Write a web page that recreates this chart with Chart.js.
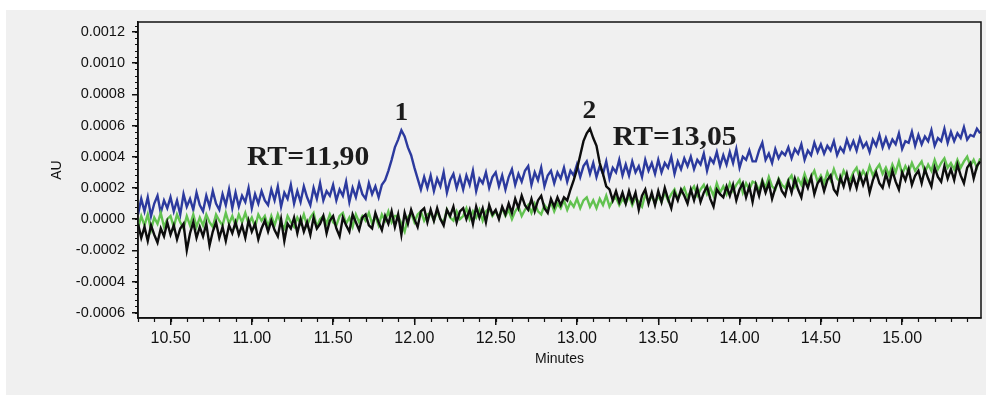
<!DOCTYPE html>
<html>
<head>
<meta charset="utf-8">
<script src="https://cdn.jsdelivr.net/npm/chart.js@4.4.1/dist/chart.umd.min.js"></script>
<style>
html, body { margin: 0; padding: 0; background: #fff; }
#panel { position: absolute; left: 6px; top: 10px; width: 980px; height: 385px; background: #f0f0f0; }
#wrap { position: absolute; left: 0; top: 0; width: 986px; height: 403px; }
</style>
</head>
<body>
<div id="panel"></div>
<div id="wrap"><canvas id="cromatograma" width="986" height="403"></canvas></div>
<script>
// sampling of the traces (minutes)
const startTime = 10.30;
const sampleStep = 0.02;
// absorbance values in units of 1e-5 AU, one value per sample
const unit = 1e-5;

const blueTrace = [
  3, 13, 5, 14, 2, 10, 15, 4, 12, 7,
  14, 5, 12, 3, 16, 8, 13, 6, 17, 9,
  5, 15, 8, 18, 10, 6, 16, 9, 19, 7,
  17, 8, 15, 11, 20, 7, 16, 10, 18, 12,
  9, 19, 12, 21, 8, 17, 13, 22, 10, 18,
  11, 21, 14, 9, 20, 13, 23, 12, 18, 15,
  22, 12, 19, 15, 24, 11, 20, 14, 23, 16,
  13, 23, 16, 21, 14, 22, 25, 31, 38, 46,
  51, 57, 53, 46, 41, 33, 26, 19, 27, 20,
  28, 18, 26, 21, 30, 17, 25, 29, 20, 27,
  19, 28, 22, 31, 18, 26, 23, 30, 20, 27,
  30, 21, 28, 19, 27, 32, 22, 29, 24, 31,
  34, 22, 30, 25, 33, 21, 28, 31, 23, 30,
  26, 33, 24, 31, 28, 35, 27, 34, 37, 29,
  36, 27, 34, 29, 37, 26, 33, 30, 38, 28,
  35, 28, 37, 30, 34, 27, 38, 31, 36, 29,
  38, 30, 36, 33, 40, 29, 37, 32, 39, 34,
  40, 32, 38, 35, 42, 31, 39, 36, 43, 34,
  41, 35, 43, 36, 45, 33, 40, 38, 44, 37,
  37, 44, 49, 38, 42, 36, 45, 39, 43, 41,
  46, 39, 45, 42, 48, 38, 44, 41, 49, 43,
  48, 42, 47, 44, 50, 41, 46, 43, 51, 45,
  50, 44, 52, 46, 49, 43, 51, 47, 54, 46,
  52, 46, 51, 48, 55, 45, 50, 49, 56, 47,
  54, 48, 53, 50, 57, 47, 52, 50, 58, 49,
  56, 50, 55, 52, 59, 51, 54, 53, 58, 55
];

const blackTrace = [
  -3, -12, -5, -14, -4, -10, -15, -6, -11, -2,
  -10, -4, -13, -6, -3, -20, -9, -2, -12, -5,
  -11, -3, -17, -8, -2, -12, -5, -14, -4, -9,
  -2, -10, -4, -12, -1, -8, -3, -13, -6, -1,
  -8, -1, -7, -11, 0, -14, -3, -6, 1, -9,
  0, -8, -2, -10, 1, -6, -3, 2, -9, -1,
  2, -6, -11, 1, -4, -8, 3, -2, -7, 1,
  3, -4, -6, 4, -2, -7, 2, -3, 5, -5,
  3, -10, 4, -3, 6, 0, -5, 5, 7, -2,
  6, -1, 7, 0, -4, 6, 2, 8, -2, 5,
  7, 0, 6, -3, 8, 1, 7, -2, 9, 3,
  6, 0, 8, 3, 10, 4, 13, 7, 15, 9,
  6, 13, 5, 12, 15, 7, 4, 13, 8, 14,
  9, 14, 12, 19, 25, 32, 41, 50, 55, 58,
  52, 47, 36, 29, 21, 19, 12, 18, 11, 17,
  10, 18, 11, 17, 6, 15, 19, 10, 17, 9,
  18, 11, 20, 13, 7, 17, 12, 19, 15, 10,
  19, 12, 20, 11, 17, 21, 13, 8, 19, 16,
  14, 21, 15, 22, 12, 19, 23, 14, 21, 11,
  22, 15, 24, 17, 23, 13, 20, 25, 18, 15,
  24, 17, 26, 19, 14, 25, 20, 27, 16, 23,
  26, 18, 25, 28, 19, 16, 27, 21, 29, 20,
  27, 20, 29, 22, 28, 17, 25, 30, 23, 20,
  29, 22, 31, 24, 19, 30, 25, 32, 22, 28,
  31, 23, 32, 26, 21, 33, 27, 24, 34, 26,
  32, 25, 35, 28, 23, 33, 36, 26, 34, 37
];

const greenTrace = [
  -6, 2, -4, 3, -7, 1, -3, 4, -5, 0,
  2, -5, 3, -2, -6, 2, -4, 3, -5, 1,
  -4, 3, -2, -5, 3, -1, -4, 4, -3, 2,
  -4, 3, -2, 4, -3, 1, -5, 3, -1, 2,
  -5, 2, -4, 3, -3, -6, 2, -2, -5, 1,
  -3, 3, -4, 1, 4, -5, 0, 2, -3, 3,
  -2, -4, 2, 4, -3, 1, -5, 3, -2, 2,
  -1, 4, -3, 2, -4, 3, -1, 5, -2, 2,
  2, -3, -8, 1, 4, -2, 3, 5, -1, 3,
  4, -1, 5, 0, -2, 6, 1, -1, 5, 0,
  2, 7, 0, 5, 1, 6, -1, 5, 7, 2,
  5, 1, 7, 2, 6, 0, 5, 8, 2, 6,
  9, 4, 10, 5, 3, 9, 6, 11, 5, 10,
  7, 12, 6, 11, 8, 13, 7, 12, 14, 8,
  12, 7, 13, 9, 15, 8, 12, 14, 9, 13,
  10, 15, 9, 14, 11, 8, 16, 11, 15, 10,
  15, 11, 17, 12, 16, 19, 13, 17, 20, 14,
  18, 21, 15, 19, 22, 16, 20, 15, 23, 17,
  21, 16, 23, 18, 22, 25, 17, 23, 19, 24,
  23, 18, 25, 20, 27, 21, 19, 26, 22, 20,
  25, 28, 21, 26, 22, 29, 23, 27, 31, 24,
  28, 23, 30, 25, 32, 26, 24, 31, 27, 25,
  30, 33, 26, 31, 27, 34, 28, 32, 35, 29,
  33, 28, 35, 30, 37, 29, 34, 30, 36, 31,
  34, 37, 30, 35, 31, 38, 32, 36, 39, 33,
  36, 32, 38, 33, 37, 40, 34, 38, 33, 39
];

const xTickLabels = ['10.50', '11.00', '11.50', '12.00', '12.50', '13.00', '13.50', '14.00', '14.50', '15.00'];
const yTickLabels = ['-0.0006', '-0.0004', '-0.0002', '0.0000', '0.0002', '0.0004', '0.0006', '0.0008', '0.0010', '0.0012'];

// peak annotations (minutes, AU)
const peakNotes = [
  { text: '1', x: 11.92, y: 0.00068, size: 25, align: 'center' },
  { text: '2', x: 13.077, y: 0.00069, size: 25, align: 'center' },
  { text: 'RT=11,90', x: 10.97, y: 0.00039, size: 27, align: 'left' },
  { text: 'RT=13,05', x: 13.22, y: 0.00052, size: 27, align: 'left' }
];

const toPoints = (arr) => arr.map((v, i) => ({ x: startTime + i * sampleStep, y: v * unit }));

const sansFont = 'Arial, "Liberation Sans", sans-serif';

const framePlugin = {
  id: 'frame',
  afterDraw(chart) {
    const { ctx, chartArea: a, scales } = chart;
    ctx.save();
    ctx.strokeStyle = '#111';
    ctx.lineWidth = 1.5;
    ctx.strokeRect(a.left, a.top, a.right - a.left, a.bottom - a.top);
    // minor ticks
    ctx.lineWidth = 1.2;
    ctx.beginPath();
    for (let k = 103; k <= 154; k++) {
      const px = Math.round(scales.x.getPixelForValue(k / 10)) + 0.5;
      ctx.moveTo(px, a.bottom);
      ctx.lineTo(px, a.bottom + 4);
    }
    for (let k = -15; k <= 31; k++) {
      const py = Math.round(scales.y.getPixelForValue(k * 0.00004)) + 0.5;
      ctx.moveTo(a.left, py);
      ctx.lineTo(a.left - 3, py);
    }
    ctx.stroke();
    // peak labels
    ctx.fillStyle = '#1c1c1c';
    ctx.textBaseline = 'middle';
    peakNotes.forEach(n => {
      const px = scales.x.getPixelForValue(n.x);
      const py = scales.y.getPixelForValue(n.y);
      ctx.save();
      ctx.translate(px, py);
      ctx.scale(1.1, 1);
      ctx.font = 'bold ' + n.size + 'px "Liberation Serif", "Times New Roman", serif';
      ctx.textAlign = n.align;
      ctx.fillText(n.text, 0, 0);
      ctx.restore();
    });
    ctx.restore();
  }
};

const ctx = document.getElementById('cromatograma').getContext('2d');
const grafico = new Chart(ctx, {
  type: 'line',
  data: {
    datasets: [
      { label: 'black', data: toPoints(blackTrace), borderColor: '#0d0d0d', borderWidth: 2.4 },
      { label: 'green', data: toPoints(greenTrace), borderColor: '#62c250', borderWidth: 2.4 },
      { label: 'blue', data: toPoints(blueTrace), borderColor: '#2c3a9e', borderWidth: 2.4 }
    ]
  },
  options: {
    responsive: false,
    animation: false,
    parsing: false,
    elements: { point: { radius: 0 }, line: { tension: 0, borderJoinStyle: 'miter' } },
    layout: { padding: { top: 22, right: 5, left: 0, bottom: 0 } },
    plugins: { legend: { display: false }, tooltip: { enabled: false } },
    scales: {
      x: {
        type: 'linear',
        min: 10.30,
        max: 15.485,
        afterFit(scale) { scale.height = 85; },
        afterBuildTicks(scale) { scale.ticks = xTickLabels.map(t => ({ value: parseFloat(t) })); },
        ticks: {
          padding: 4,
          color: '#111',
          font: { family: sansFont, size: 16 },
          maxRotation: 0,
          autoSkip: false,
          callback: (v) => v.toFixed(2)
        },
        grid: { drawOnChartArea: false, drawTicks: true, tickLength: 7, color: '#111', lineWidth: 1.5 },
        border: { display: true, color: '#111', width: 1.5 },
        title: { display: true, text: 'Minutes', color: '#111', font: { family: sansFont, size: 14 }, padding: { top: 0, bottom: 35 } }
      },
      y: {
        min: -0.000634,
        max: 0.001264,
        afterFit(scale) { scale.width = 138; },
        afterBuildTicks(scale) { scale.ticks = yTickLabels.map(t => ({ value: parseFloat(t) })); },
        ticks: {
          padding: 7,
          color: '#111',
          font: { family: sansFont, size: 14.5 },
          autoSkip: false,
          callback: (v) => v.toFixed(4)
        },
        grid: { drawOnChartArea: false, drawTicks: true, tickLength: 6, color: '#111', lineWidth: 1.5 },
        border: { display: true, color: '#111', width: 1.5 },
        title: { display: true, text: 'AU', color: '#111', font: { family: sansFont, size: 14 }, padding: { top: 49, bottom: 0 } }
      }
    }
  },
  plugins: [framePlugin]
});
</script>
</body>
</html>
